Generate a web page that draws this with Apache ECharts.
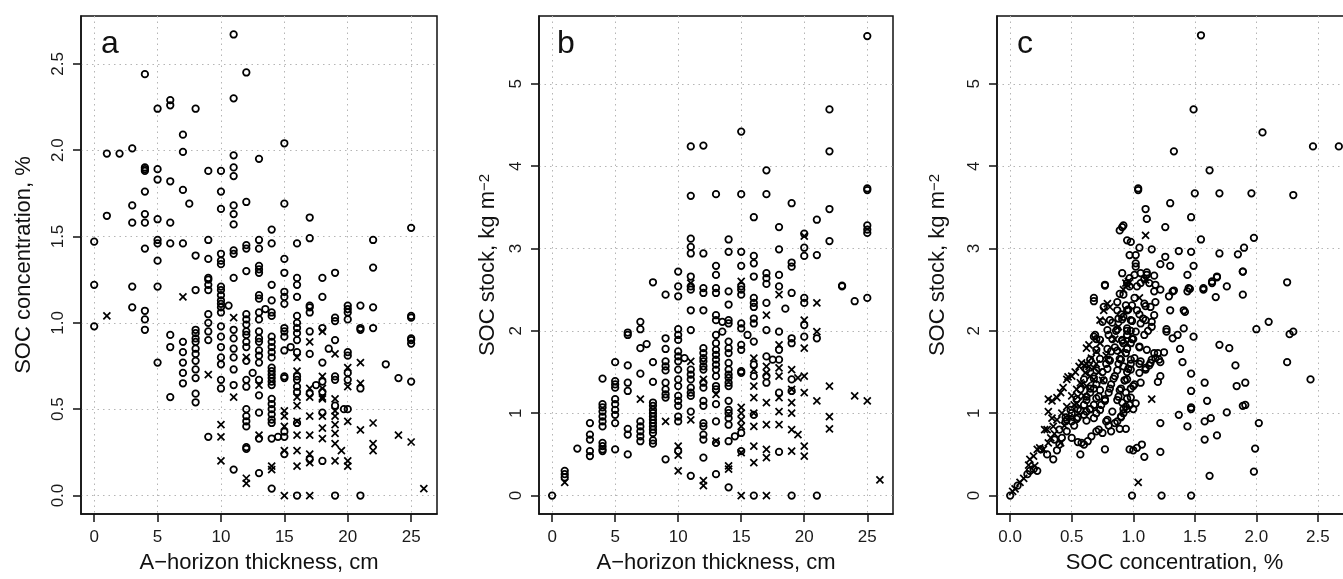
<!DOCTYPE html>
<html>
<head>
<meta charset="utf-8">
<script src="https://cdn.jsdelivr.net/npm/echarts@6/dist/echarts.min.js"></script>
<style>
  html, body { margin: 0; padding: 0; background: #fff; overflow: hidden; }
  /* the last panel runs past the right edge of the window, as in the source figure */
  #main { width: 1352px; height: 579px; }
</style>
</head>
<body>
<div id="main"></div>
<script>
// panel a: A-horizon thickness (cm) vs SOC concentration (%)
const aCircles = [
  [0,1.47],[0,1.22],[0,0.98],
  [1,1.98],[1,1.62],[2,1.98],
  [3,2.01],[3,1.68],[3,1.58],[3,1.21],[3,1.09],
  [4,2.44],[4,1.90],[4,1.89],[4,1.88],[4,1.76],[4,1.63],[4,1.58],[4,1.43],[4,1.07],[4,1.02],[4,0.96],
  [5,2.24],[5,1.89],[5,1.83],[5,1.60],[5,1.48],[5,1.46],[5,1.36],[5,1.21],[5,0.77],
  [6,2.29],[6,2.26],[6,1.82],[6,1.58],[6,1.46],[6,0.93],[6,0.86],[6,0.57],
  [7,2.09],[7,1.99],[7,1.77],[7,1.46],[7,0.89],[7,0.83],[7,0.77],[7,0.71],[7,0.65],[7.5,1.69],
  [8,2.24],[8,1.39],[8,1.19],[8,0.96],[8,0.94],[8,0.91],[8,0.89],[8,0.85],[8,0.82],[8,0.78],[8,0.73],[8,0.68],[8,0.59],[8,0.54],
  [9,1.88],[9,1.48],[9,1.37],[9,1.26],[9,1.25],[9,1.22],[9,1.19],[9,1.05],[9,1.00],[9,0.95],[9,0.90],[9,0.34],
  [10,1.88],[10,1.76],[10,1.66],[10,1.40],[10,1.36],[10,1.34],[10,1.21],[10,1.19],[10,1.16],[10,1.13],[10,1.11],[10,1.09],
  [10,1.06],[10,0.98],[10,0.92],[10,0.86],[10,0.80],[10,0.76],[10,0.67],[10,0.62],[10.6,1.10],
  [11,2.67],[11,2.30],[11,1.97],[11,1.90],[11,1.85],[11,1.68],[11,1.63],[11,1.57],[11,1.42],[11,1.40],[11,1.26],
  [11,0.96],[11,0.91],[11,0.85],[11,0.80],[11,0.73],[11,0.64],[11,0.15],
  [12,2.45],[12,1.70],[12,1.45],[12,1.43],[12,1.30],[12,1.05],[12,1.02],[12,0.99],[12,0.95],[12,0.93],[12,0.89],
  [12,0.86],[12,0.78],[12,0.67],[12,0.63],[12,0.50],[12,0.46],[12,0.43],[12,0.40],[12,0.27],[12,0.28],[12.5,0.71],
  [13,1.95],[13,1.48],[13,1.43],[13,1.33],[13,1.31],[13,1.29],[13,1.16],[13,1.14],[13,1.06],[13,1.02],[13,0.95],
  [13,0.91],[13,0.89],[13,0.84],[13,0.81],[13,0.77],[13,0.67],[13,0.58],[13,0.48],[13,0.33],[13,0.13],[13.5,1.08],
  [14,1.54],[14,1.46],[14,1.22],[14,1.13],[14,1.06],[14,1.04],[14,0.92],[14,0.89],[14,0.86],[14,0.83],[14,0.80],
  [14,0.74],[14,0.72],[14,0.70],[14,0.68],[14,0.66],[14,0.64],[14,0.56],[14,0.53],[14,0.50],[14,0.47],[14,0.44],
  [14,0.42],[14,0.33],[14,0.04],[14.5,0.34],
  [15,2.04],[15,1.69],[15,1.37],[15,1.29],[15,1.18],[15,1.15],[15,1.11],[15,0.97],[15,0.95],[15,0.92],[15,0.84],
  [15,0.69],[15,0.68],[15,0.37],[15,0.34],[15,0.24],[15.5,0.86],
  [16,1.46],[16,1.26],[16,1.22],[16,1.15],[16,1.04],[16,1.00],[16,0.97],[16,0.94],[16,0.90],[16,0.83],[16,0.69],
  [16,0.67],[16,0.63],[16,0.60],[16,0.42],[16,0],
  [17,1.61],[17,1.49],[17,1.10],[17,1.09],[17,1.06],[17,0.95],[17,0.82],[17,0.59],[17,0.21],[17.5,0.64],
  [18,1.26],[18,1.15],[18,0.97],[18,0.77],[18,0.66],[18,0.60],[18,0.48],[18,0.20],[18.5,0.85],
  [19,1.29],[19,1.03],[19,1.01],[19,0.90],[19,0.69],[19,0.67],[19,0.52],[19,0],[19.7,0.50],
  [20,1.10],[20,1.08],[20,1.06],[20,1.02],[20,0.83],[20,0.81],[20,0.71],[20,0.67],[20,0.50],
  [21,1.10],[21,0.97],[21,0.96],[21,0.62],[21,0],
  [22,1.48],[22,1.32],[22,1.09],[22,0.97],[23,0.76],[24,0.68],
  [25,1.55],[25,1.04],[25,1.03],[25,0.91],[25,0.90],[25,0.88],[25,0.66]
];
const aCrosses = [
  [1,1.04],[7,1.15],[9,0.70],[10,0.41],[10,0.34],[10,0.20],[11,1.03],[11,0.57],
  [12,0.80],[12,0.10],[12,0.07],[13,0.64],[13,0.35],[14,0.17],[14,0.15],
  [15,0.49],[15,0.46],[15,0.40],[15,0.26],[15,0],
  [16,0.80],[16,0.72],[16,0.57],[16,0.52],[16,0.43],[16,0.35],[16,0.26],[16,0.17],
  [17,0.89],[17,0.62],[17,0.57],[17,0.46],[17,0.35],[17,0.24],[17,0.19],[17,0],
  [18,0.95],[18,0.69],[18,0.62],[18,0.57],[18,0.56],[18,0.46],[18,0.39],[18,0.33],
  [19,0.82],[19,0.56],[19,0.49],[19,0.46],[19,0.41],[19,0.36],[19,0.30],[19,0.20],[19.5,0.26],
  [20,0.74],[20,0.63],[20,0.43],[20,0.20],[20,0.17],[21,0.77],[21,0.65],[21,0.38],
  [22,0.42],[22,0.30],[22,0.26],[24,0.35],[25,0.31],[26,0.04]
];

// panel b: A-horizon thickness (cm) vs SOC stock (kg m-2)
const bCircles = [
  [0,0],[1,0.30],[1,0.26],[1,0.22],[2,0.57],
  [3,0.88],[3,0.74],[3,0.68],[3,0.54],[3,0.48],
  [4,1.42],[4,1.11],[4,1.07],[4,1.02],[4,0.96],[4,0.90],[4,0.84],[4,0.64],[4,0.60],[4,0.56],[4,0.54],
  [5,1.62],[5,1.39],[5,1.35],[5,1.31],[5,1.17],[5,1.11],[5,1.04],[5,0.98],[5,0.88],[5,0.56],
  [6,1.98],[6,1.95],[6,1.58],[6,1.37],[6,1.27],[6,0.81],[6,0.74],[6,0.50],
  [7,2.11],[7,2.02],[7,1.79],[7,1.48],[7,0.90],[7,0.84],[7,0.78],[7,0.72],[7,0.66],[7.5,1.84],
  [8,2.59],[8,1.62],[8,1.38],[8,1.13],[8,1.09],[8,1.04],[8,1.00],[8,0.96],[8,0.92],[8,0.88],[8,0.84],[8,0.80],[8,0.76],[8,0.67],[8,0.63],
  [9,2.44],[9,1.91],[9,1.78],[9,1.63],[9,1.57],[9,1.52],[9,1.37],[9,1.29],[9,1.23],[9,1.19],[9,0.44],
  [10,2.72],[10,2.54],[10,2.42],[10,2.02],[10,1.95],[10,1.89],[10,1.75],[10,1.69],[10,1.63],[10,1.53],[10,1.41],
  [10,1.33],[10,1.21],[10,1.15],[10,1.09],[10,0.96],[10,0.90],[10,0.54],[10.5,1.67],
  [11,4.24],[11,3.64],[11,3.12],[11,3.02],[11,2.94],[11,2.66],[11,2.54],[11,2.50],[11,2.25],[11,2.01],[11,1.53],
  [11,1.47],[11,1.41],[11,1.31],[11,1.25],[11,1.21],[11,1.02],[11,0.24],
  [12,4.25],[12,2.94],[12,2.52],[12,2.46],[12,2.25],[12,1.79],[12,1.73],[12,1.67],[12,1.63],[12,1.57],[12,1.53],
  [12,1.37],[12,1.31],[12,1.15],[12,1.09],[12,0.88],[12,0.84],[12,0.74],[12,0.68],[12,0.46],
  [13,3.66],[13,2.79],[13,2.68],[13,2.52],[13,2.46],[13,2.19],[13,2.13],[13,1.95],[13,1.85],[13,1.77],[13,1.71],
  [13,1.65],[13,1.59],[13,1.53],[13,1.45],[13,1.33],[13,1.29],[13,1.11],[13,0.90],[13,0.64],[13,0.26],
  [13.5,2.11],[13.5,1.99],
  [14,3.11],[14,2.96],[14,2.48],[14,2.32],[14,2.13],[14,2.09],[14,1.87],[14,1.79],[14,1.73],[14,1.61],[14,1.53],
  [14,1.47],[14,1.43],[14,1.37],[14,1.33],[14,1.15],[14,1.04],[14,1.00],[14,0.94],[14,0.86],[14,0.66],[14,0.10],[14.5,0.72],
  [15,4.42],[15,3.66],[15,2.96],[15,2.79],[15,2.54],[15,2.50],[15,2.44],[15,2.09],[15,2.03],[15,1.83],[15,1.77],
  [15,1.51],[15,1.49],[15,0.76],[15,0.54],[15.5,1.95],
  [16,3.38],[16,2.91],[16,2.82],[16,2.66],[16,2.40],[16,2.34],[16,2.29],[16,2.15],[16,2.09],[16,1.87],[16,1.59],
  [16,1.45],[16,0.98],[16,0],
  [17,3.95],[17,3.66],[17,2.70],[17,2.64],[17,2.57],[17,2.34],[17,2.01],[17,1.69],[17,1.45],[17,1.37],[17.5,1.65],
  [18,3.26],[18,2.99],[18,2.68],[18,2.54],[18,1.99],[18,1.77],[18,1.65],[18,1.25],[18,0.53],[18.5,2.27],
  [19,3.55],[19,2.83],[19,2.78],[19,2.46],[19,1.91],[19,1.85],[19,1.41],[19,1.27],[19,0],
  [20,3.18],[20,3.01],[20,2.91],[20,2.40],[20,2.34],[20,2.07],[20,1.93],
  [21,3.35],[21,2.92],[21,1.91],[21,0],
  [22,4.69],[22,4.18],[22,3.48],[22,3.09],[23,2.55],[23,2.54],[24,2.36],
  [25,5.58],[25,3.73],[25,3.71],[25,3.28],[25,3.23],[25,3.19],[25,2.40]
];
const bCrosses = [
  [1,0.16],[7,1.17],[9,0.90],[10,0.60],[10,0.49],[10,0.30],[11,2.58],[11,1.63],[11,0.92],
  [12,1.41],[12,0.18],[12,0.12],[13,1.23],[13,0.66],[14,0.36],[14,0.32],
  [15,2.60],[15,1.07],[15,1.00],[15,0.92],[15,0.84],[15,0.52],[15,0],
  [16,1.67],[16,1.53],[16,1.33],[16,1.19],[16,1.00],[16,0.84],[16,0.60],[16,0.40],
  [17,2.19],[17,1.57],[17,1.49],[17,1.13],[17,0.86],[17,0.56],[17,0.46],[17,0],
  [18,2.44],[18,1.83],[18,1.55],[18,1.45],[18,1.19],[18,1.02],[18,0.86],
  [19,1.53],[19,1.29],[19,1.13],[19,1.00],[19,0.80],[19,0.54],[19.5,1.43],[19.5,0.74],
  [20,3.15],[20,2.13],[20,1.79],[20,1.45],[20,1.25],[20,0.60],[20,0.48],
  [21,2.34],[21,1.99],[21,1.15],[22,1.33],[22,0.96],[22,0.81],[24,1.21],[25,1.15],[26,0.19]
];

// panel c: SOC concentration (%) vs SOC stock (kg m-2)
const cCircles = [
  [1.55,5.59],[1.49,4.69],[2.05,4.41],[1.33,4.18],[2.46,4.24],[2.67,4.24],[1.62,3.95],[1.04,3.73],[1.04,3.71],
  [1.50,3.67],[1.70,3.67],[1.96,3.67],[2.30,3.65],[1.30,3.55],[1.10,3.48],[1.11,3.36],[1.47,3.38],[1.26,3.26],
  [0.89,3.22],[0.91,3.26],[0.92,3.28],[1.55,3.11],[1.98,3.13],[0.98,3.08],[0.95,3.10],[1.05,3.01],[1.90,3.01],
  [1.85,2.93],[1.15,2.99],[1.37,2.97],[1.47,2.96],[0.97,2.92],[1.02,2.92],[1.26,2.90],[1.22,2.81],[1.30,2.79],
  [1.70,2.94],[1.02,2.82],[1.02,2.78],[1.49,2.79],[1.89,2.72],[2.25,2.59],[1.11,2.71],[1.17,2.67],[1.09,2.63],
  [1.06,2.58],[1.44,2.68],[1.68,2.66],[1.64,2.60],[1.76,2.54],[0.97,2.54],[1.18,2.56],[1.22,2.50],[1.45,2.52],
  [1.57,2.52],[0.77,2.56],[0.77,2.55],
  [0.99,0],[1.23,0],[1.47,0],[1.62,0.24],[1.98,0.29],[0.97,0.56],[1.03,0.58],[1.07,0.62],[1.09,0.47],[1.22,0.53],
  [1.58,0.68],[1.68,0.73],[1.99,0.57],[0.94,0.81],[1.22,0.88],[1.44,0.84],[1.58,0.90],[1.63,0.94],[1.37,0.98],
  [1.47,1.05],[1.47,1.07],[1.76,1.01],[1.89,1.09],[1.91,1.10],[2.02,0.88],[1.60,1.15],[1.47,1.27],[1.47,1.48],
  [1.58,1.37],[1.84,1.33],[1.91,1.37],[2.44,1.41],[1.83,1.58],[1.40,1.62],[1.38,1.78],[1.70,1.83],[1.78,1.79],
  [2.25,1.62],[1.27,2.02],[1.27,1.99],[1.32,1.91],[1.36,1.95],[1.41,2.03],[1.49,1.93],[2.00,2.02],[2.10,2.11],
  [2.27,1.96],[2.30,1.99],[1.30,2.25],[1.41,2.25],[1.42,2.23],[1.44,2.48],[1.46,2.51],[1.57,2.50],[1.64,2.58],
  [1.68,2.65],[1.67,2.41],[1.89,2.44],[1.89,2.72],[1.29,2.42],[1.32,2.48],[1.33,2.49],
  [1.20,1.38],[1.06,1.37],[1.00,1.33],[1.15,1.65],[1.18,1.67],[1.13,1.58],[1.20,1.73],[1.22,1.62],[1.25,1.74],
  [1.10,1.55],[1.05,1.60],[1.12,2.00],[1.15,2.05],[1.08,2.15],[1.05,2.20],[1.10,2.30],[1.18,2.35],[1.03,2.25],
  [1.00,1.90],[1.05,1.80],[1.22,1.45],
  [0.91,2.70],[1.01,2.68],[1.06,2.70],[1.11,2.68],[0.95,2.58],[1.03,2.54],[1.13,2.58],[1.17,2.48],[0.92,2.44],
  [1.01,2.40],[1.09,2.33],[1.14,2.29],[0.94,2.31],[1.17,2.19],[0.92,2.17],[0.98,2.13],[1.06,2.09],[1.10,2.13],
  [1.15,2.11],[0.95,2.03],[1.02,1.99],[1.09,1.95],[0.91,1.89],[0.98,1.85],[1.05,1.81],[1.11,1.77],[1.17,1.73],
  [0.94,1.73],[1.01,1.67],[1.06,1.63],[1.14,1.61],[1.21,1.65],[0.92,1.57],[0.98,1.53],[1.05,1.49],[1.10,1.53],
  [0.95,1.41],[1.01,1.35],[0.94,1.25],[0.98,1.19],[0.91,1.13],[0.94,1.08],[0.90,0.96],[1.02,1.12],[1.00,1.05],
  [0,0],[0.06,0.12],[0.14,0.26],[0.16,0.30],[0.19,0.32],[0.22,0.30],[0.25,0.56],[0.30,0.50],[0.35,0.44],[0.40,0.62],
  [0.45,0.90],[0.45,0.95],[0.50,1.00],[0.50,0.90],[0.55,1.05],[0.57,0.50],[0.58,0.64],[0.60,0.62],[0.63,0.66],
  [0.66,0.72],[0.70,0.78],[0.72,0.80],[0.75,0.76],[0.77,0.56],[0.78,0.90],[0.80,0.85],[0.82,0.78],[0.85,0.88],
  [0.89,0.81],[0.90,0.95],[0.92,1.00],[0.95,1.05],[0.97,1.10],[1.00,0.55],[0.60,1.10],[0.62,1.20],[0.65,1.25],
  [0.68,1.30],[0.70,1.35],[0.72,1.20],[0.74,1.10],[0.77,1.15],[0.80,1.25],[0.82,1.35],[0.85,1.45],[0.88,1.20],
  [0.90,1.30],[0.93,1.40],[0.95,1.50],[0.98,1.60],[0.75,1.50],[0.78,1.60],[0.80,1.65],[0.82,1.75],[0.85,1.80],
  [0.88,1.60],[0.90,1.65],[0.92,1.85],[0.95,1.95],[0.98,2.00],[0.70,1.90],[0.68,1.93],[0.69,1.95],[0.75,2.11],
  [0.76,2.29],[0.68,2.40],[0.68,2.36],[0.87,2.35],[0.89,2.45],[0.90,2.20],[0.95,2.25],[0.99,2.31],[0.83,2.10],
  [0.86,2.00],[0.80,1.95],[0.88,2.15],[0.97,2.64],[0.55,0.65],[0.50,0.70],[0.42,0.70],[0.38,0.55],[0.36,0.68],
  [0.40,0.80],[0.46,0.78],[0.52,0.85],[0.55,0.95],[0.60,0.98],[0.62,1.02],[0.65,1.05],[0.68,1.10],[0.70,1.00],
  [0.46,0.92],[0.54,0.93],[0.62,0.91],[0.68,0.94],[0.79,0.92],[0.87,0.90],
  [0.49,1.04],[0.57,1.03],[0.65,1.05],[0.73,1.04],[0.83,1.02],[0.92,1.05],
  [0.54,1.17],[0.62,1.16],[0.70,1.18],[0.77,1.17],[0.87,1.16],[0.95,1.18],
  [0.57,1.29],[0.65,1.30],[0.73,1.28],[0.81,1.30],[0.89,1.28],[0.98,1.30],
  [0.60,1.41],[0.68,1.42],[0.76,1.40],[0.84,1.42],[0.93,1.40],
  [0.62,1.53],[0.70,1.52],[0.79,1.54],[0.87,1.52],[0.96,1.54],
  [0.65,1.65],[0.73,1.66],[0.81,1.64],[0.89,1.66],[0.98,1.65],
  [0.70,1.77],[0.79,1.78],[0.87,1.76],[0.95,1.78],
  [0.73,1.89],[0.83,1.90],[0.91,1.88],[0.99,1.90],
  [0.79,2.01],[0.87,2.02],[0.95,2.00],[0.81,2.13],[0.91,2.14],[0.99,2.12],[0.87,2.25],[0.96,2.26]
];
const cCrosses = [
  [0.02,0.05],[0.04,0.08],[0.08,0.16],[0.11,0.21],[0.15,0.37],[0.16,0.44],[0.19,0.48],[0.20,0.36],[0.22,0.56],
  [0.24,0.58],[0.27,0.56],[0.28,0.80],[0.30,0.80],[0.31,0.64],[0.33,0.70],[0.36,0.75],[0.31,1.02],[0.34,0.94],
  [0.31,1.17],[0.34,1.15],[0.38,1.19],[0.41,1.25],[0.43,1.31],[0.46,1.41],[0.47,1.44],[0.50,1.45],[0.53,1.50],
  [0.56,1.57],[0.58,1.61],[0.60,1.58],[0.62,1.60],[0.62,1.79],[0.64,1.83],[0.73,2.13],[0.76,2.25],[0.79,2.33],
  [0.81,2.29],[0.92,2.50],[0.95,2.56],[0.96,2.60],[0.94,2.58],[1.10,3.16],[1.15,1.17],[1.04,0.16],[0.41,0.64],
  [0.44,0.85],[0.48,0.95],[0.52,1.10],[0.55,1.20],[0.58,1.35],[0.65,1.45],[0.68,1.55],[0.70,1.60],[0.72,1.50],
  [0.75,1.40],[0.78,1.70],[0.85,1.90],[0.88,2.05],[0.90,1.75],[0.95,1.85],[1.05,2.40],[1.10,2.62],
  [0.35,0.84],[0.38,0.92],[0.42,1.00],[0.46,1.08],[0.50,1.21],[0.54,1.29],[0.57,1.37],[0.61,1.49],
  [0.64,1.57],[0.66,1.67],[0.70,1.75],[0.73,1.85],[0.54,1.12],[0.60,1.21],[0.62,1.33],[0.68,1.41]
];

const thickTicks = [0, 5, 10, 15, 20, 25];
const concTicks = [0, 0.5, 1, 1.5, 2, 2.5];
const stockTicks = [0, 1, 2, 3, 4, 5];

const FONT = '"Liberation Sans", Arial, Helvetica, sans-serif';
const CROSS = 'path://M0,0L10,10M10,0L0,10';

function axis(gridIndex, min, max, ticks, digits, name, nameGap, isY) {
  return {
    type: 'value',
    gridIndex: gridIndex,
    min: min,
    max: max,
    name: name,
    nameLocation: 'middle',
    nameGap: nameGap,
    nameRotate: isY ? 90 : 0,
    nameTextStyle: {
      fontFamily: FONT, fontSize: 22, color: '#111',
      rich: { sup: { fontFamily: FONT, fontSize: 15, color: '#111', verticalAlign: 'top' } }
    },
    // keep the axis on the frame edge, not at zero
    axisLine: { show: true, onZero: false, lineStyle: { color: '#111', width: 1.5 } },
    axisTick: {
      show: true, inside: false, length: 8, customValues: ticks,
      lineStyle: { color: '#111', width: 1.5 }
    },
    axisLabel: {
      show: true, customValues: ticks, margin: isY ? 14 : 15, rotate: isY ? 90 : 0,
      fontFamily: FONT, fontSize: 17, color: '#1a1a1a',
      formatter: (v) => v.toFixed(digits)
    },
    splitLine: {
      show: true,
      lineStyle: { color: '#b5b5b5', width: 1, type: [1.5, 4] }
    }
  };
}

function scatter(idx, data, cross) {
  return {
    type: 'scatter',
    xAxisIndex: idx,
    yAxisIndex: idx,
    data: data,
    symbol: cross ? CROSS : 'circle',
    symbolSize: cross ? 7 : 6.5,
    itemStyle: { color: 'rgba(0,0,0,0)', borderColor: '#000', borderWidth: 1.75, opacity: 1 },
    emphasis: { disabled: true },
    silent: true
  };
}

const gridStyle = { show: true, borderColor: '#111', borderWidth: 1.5, backgroundColor: '#fff' };

function letter(txt, x) {
  return {
    type: 'text', left: x, top: 28,
    style: { text: txt, font: '32px ' + FONT, fill: '#111' }
  };
}

const chart = echarts.init(document.getElementById('main'), null, { renderer: 'canvas' });

const option = {
  animation: false,
  backgroundColor: '#fff',
  grid: [
    Object.assign({ left: 81, top: 16, width: 356, height: 499 }, gridStyle),
    Object.assign({ left: 539, top: 16, width: 354, height: 499 }, gridStyle),
    Object.assign({ left: 997, top: 16, width: 355, height: 499 }, gridStyle)
  ],
  xAxis: [
    axis(0, -1.04, 27.04, thickTicks, 0, 'A\u2212horizon thickness, cm', 38, false),
    axis(1, -1.04, 27.04, thickTicks, 0, 'A\u2212horizon thickness, cm', 38, false),
    axis(2, -0.107, 2.777, concTicks, 1, 'SOC concentration, %', 38, false)
  ],
  yAxis: [
    axis(0, -0.107, 2.777, concTicks, 1, 'SOC concentration, %', 46, true),
    axis(1, -0.224, 5.824, stockTicks, 0, 'SOC stock, kg m{sup|\u22122}', 40, true),
    axis(2, -0.224, 5.824, stockTicks, 0, 'SOC stock, kg m{sup|\u22122}', 48, true)
  ],
  graphic: [letter('a', 101), letter('b', 557), letter('c', 1017)],
  series: [
    scatter(0, aCircles, false), scatter(0, aCrosses, true),
    scatter(1, bCircles, false), scatter(1, bCrosses, true),
    scatter(2, cCircles, false), scatter(2, cCrosses, true)
  ]
};

chart.setOption(option);
</script>
</body>
</html>
